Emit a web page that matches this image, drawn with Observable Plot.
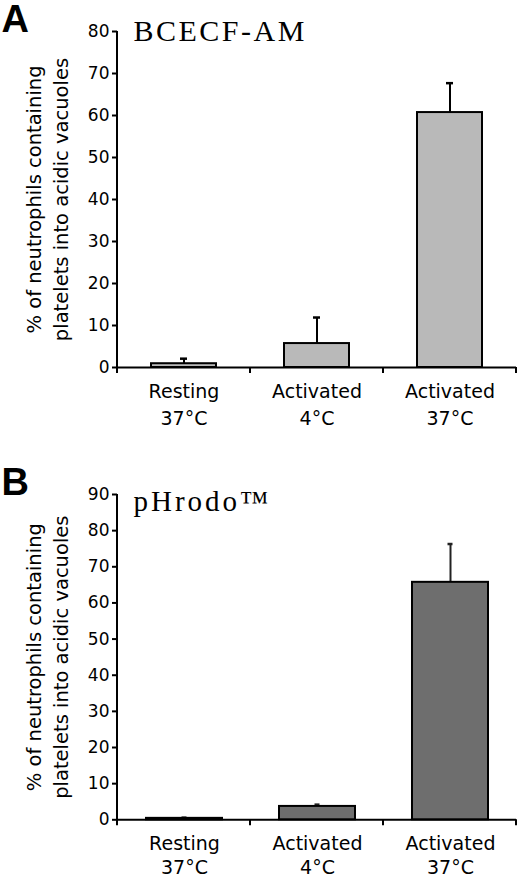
<!DOCTYPE html>
<html>
<head>
<meta charset="utf-8">
<script src="https://cdn.jsdelivr.net/npm/d3@7"></script>
<script src="https://cdn.jsdelivr.net/npm/@observablehq/plot@0.6"></script>
<style>
  body { margin: 0; background: white; }
  #chart { width: 520px; }
  #chart svg { display: block; }
</style>
</head>
<body>
<div id="chart"></div>
<script>
// Two stacked panels: uptake into acidic vacuoles, measured with BCECF-AM (A)
// and pHrodo (B). Same three conditions in each panel.
const conditions = ["Resting", "Activated", "Activated"];
const temperatures = ["37°C", "4°C", "37°C"];
const yLabel = "% of neutrophils containing\nplatelets into acidic vacuoles";

const bcecfMean = [0.9, 5.7, 60.7];
const bcecfErr = [1.2, 6.2, 7.0];
const bcecfTicks = [0, 10, 20, 30, 40, 50, 60, 70, 80];

const phrodoMean = [0.4, 3.7, 65.7];
const phrodoErr = [0.2, 0.5, 10.6];
const phrodoTicks = [0, 10, 20, 30, 40, 50, 60, 70, 80, 90];

// category keys double as the two-line tick labels
const keys = conditions.map(function (c, i) { return c + "\n" + temperatures[i]; });

function panel(o) {
  const rows = keys.map(function (k, i) {
    return { key: k, mean: o.mean[i], top: o.mean[i] + o.err[i] };
  });
  const yMax = o.ticks[o.ticks.length - 1];

  const chart = Plot.plot({
    width: 520,
    height: o.height,
    marginLeft: 117,
    marginRight: 4,
    marginTop: o.marginTop,
    marginBottom: o.marginBottom,
    style: {
      background: "white",
      color: "black",
      fontFamily: "'DejaVu Sans', sans-serif",
      fontSize: "17px",
      overflow: "visible",
    },
    x: { domain: keys, paddingInner: o.pad, paddingOuter: o.pad / 2, axis: null },
    y: { domain: [0, yMax], axis: null },
    marks: [
      Plot.axisY({ ticks: o.ticks, tickSize: 5, tickPadding: 3, strokeWidth: 2, label: null, fontSize: 17 }),
      Plot.ruleY([0], { stroke: "black", strokeWidth: 2 }),
      // error bars (upper half only)
      Plot.ruleX(rows, { x: "key", y1: "mean", y2: "top", stroke: o.errColor, strokeWidth: 2 }),
      Plot.tickY(rows, { x: "key", y: "top", stroke: o.errColor, strokeWidth: 2.5, insetLeft: o.capInset, insetRight: o.capInset }),
      Plot.barY(rows, { x: "key", y: "mean", fill: o.fill, stroke: "black", strokeWidth: 2 }),
      // category labels, two lines
      Plot.text(keys, {
        x: function (d) { return d; }, text: function (d) { return d; },
        frameAnchor: "bottom", lineAnchor: "top", dy: o.catDy,
        fontSize: 19, lineHeight: o.catLine,
      }),
      // rotated y label
      Plot.text([yLabel], {
        text: function (d) { return d; },
        frameAnchor: "left", textAnchor: "middle", lineAnchor: "middle",
        rotate: -90, dx: -72,
        fontSize: 19.5, lineHeight: 1.4,
      }),
      // panel letter
      Plot.text([o.letter], {
        text: function (d) { return d; },
        frameAnchor: "top-left", textAnchor: "start", lineAnchor: "top",
        dx: -116, dy: -26,
        fontFamily: "'Liberation Sans', Arial, sans-serif", fontWeight: 700, fontSize: 38,
      }),
      // dye name
      Plot.text([o.title], {
        text: function (d) { return d; },
        frameAnchor: "top-left", textAnchor: "start", lineAnchor: "top",
        dx: 16, dy: o.titleDy,
        fontFamily: "'Liberation Serif', 'Times New Roman', serif", fontSize: o.titleSize,
      }),
    ],
  });

  // y axis line and the category divider ticks under the x axis
  const xs = chart.scale("x");
  const ys = chart.scale("y");
  const svg = d3.select(chart);
  const x0 = xs.range[0];
  svg.append("line")
    .attr("x1", x0).attr("x2", x0)
    .attr("y1", ys.apply(yMax)).attr("y2", ys.apply(0) + 1)
    .attr("stroke", "black").attr("stroke-width", 2);
  svg.selectAll("line.div")
    .data(d3.range(keys.length + 1))
    .join("line")
    .attr("class", "div")
    .attr("x1", function (i) { return x0 + i * xs.step; })
    .attr("x2", function (i) { return x0 + i * xs.step; })
    .attr("y1", ys.apply(0)).attr("y2", ys.apply(0) + 6)
    .attr("stroke", "black").attr("stroke-width", 2);
  svg.selectAll("text").filter(function () { return this.textContent === o.title; })
    .attr("letter-spacing", o.titleSpacing);
  return chart;
}

const root = document.getElementById("chart");
root.append(panel({
  letter: "A", title: "BCECF-AM", titleSize: 30, titleDy: -11.5, titleSpacing: "2.5px",
  mean: bcecfMean, err: bcecfErr, ticks: bcecfTicks,
  fill: "#b9b9b9", errColor: "black", pad: 0.51, capInset: 29,
  catDy: 12, catLine: 1.4,
  height: 440, marginTop: 31, marginBottom: 73,
}));
root.append(panel({
  letter: "B", title: "pHrodo™", titleSize: 29, titleDy: -4.2, titleSpacing: "3px",
  mean: phrodoMean, err: phrodoErr, ticks: phrodoTicks,
  fill: "#6e6e6e", errColor: "#222", pad: 0.43, capInset: 35.5,
  catDy: 13, catLine: 1.28,
  height: 438, marginTop: 54, marginBottom: 58.7,
}));
</script>
</body>
</html>
